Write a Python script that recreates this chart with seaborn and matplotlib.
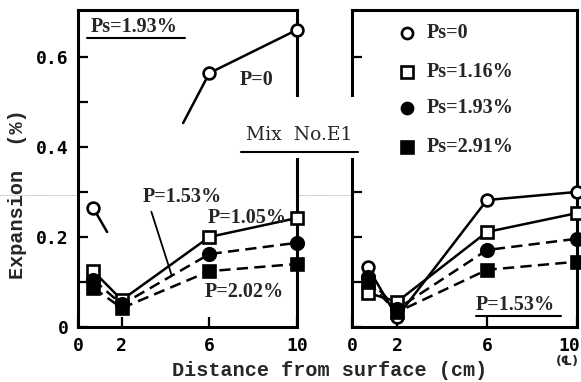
import matplotlib
matplotlib.use("Agg")
import matplotlib.pyplot as plt
import seaborn as sns
import numpy as np
from matplotlib.lines import Line2D
from matplotlib.patches import Rectangle
import matplotlib.transforms as mtransforms

sns.set_theme(style="white")
plt.rcParams['font.family'] = ['DejaVu Serif', 'DejaVu Sans']

# ---------------- data ----------------
depth = [0.7, 2, 6, 10]
xticks = [0, 2, 6, 10]
xtick_labels = ["0", "2", "6", "10"]
yticks = [0, 0.1, 0.2, 0.3, 0.4, 0.5, 0.6]
ytick_labels = ["0", "", "0.2", "", "0.4", "", "0.6"]

# left panel: Ps = 1.93 %, varying P
left_p105 = [0.124, 0.060, 0.200, 0.242]
left_p153 = [0.105, 0.050, 0.162, 0.187]
left_p202 = [0.087, 0.042, 0.124, 0.140]
left_p0_x = [6, 10]
left_p0 = [0.564, 0.660]
left_p0_first_x = [0.7]
left_p0_first = [0.264]
left_p0_stub1_x = [0.7, 1.33]
left_p0_stub1_y = [0.264, 0.211]
left_p0_stub2_x = [6, 4.8]
left_p0_stub2_y = [0.564, 0.453]

# right panel: P = 1.53 %, varying Ps
right_ps0 = [0.133, 0.022, 0.282, 0.300]
right_ps116 = [0.076, 0.056, 0.211, 0.253]
right_ps193 = [0.110, 0.040, 0.171, 0.196]
right_ps291 = [0.100, 0.033, 0.127, 0.145]
legend_labels = ["Ps=0", "Ps=1.16%", "Ps=1.93%", "Ps=2.91%"]

# ---------------- styles ----------------
DASH = (0, (4.5, 2.5))
sty_open_circle = dict(marker="o", markersize=8.5, markerfacecolor="white", linestyle="-")
sty_open_square = dict(marker="s", markersize=9, markerfacecolor="white", linestyle="-")
sty_fill_circle = dict(marker="o", markersize=9, markerfacecolor="black", linestyle=DASH)
sty_fill_square = dict(marker="s", markersize=9, markerfacecolor="black", linestyle=DASH)
styles = [sty_open_circle, sty_open_square, sty_fill_circle, sty_fill_square]

W, H = 581, 382
fig = plt.figure(figsize=(W / 100, H / 100), dpi=100)

def fx(px):
    return px / W

def fy(py):
    return (H - py) / H

ax1 = fig.add_axes([fx(78), fy(327), fx(297) - fx(78), fy(10) - fy(327)])
ax2 = fig.add_axes([fx(352), fy(327), fx(577) - fx(352), fy(10) - fy(327)])

tickfont = dict(family="DejaVu Sans Mono", weight="bold", size=13)
annfont = dict(family="Liberation Serif", weight="bold", size=14.5)
labelfont = dict(family="Liberation Mono", weight="bold", size=14.5)

def line(ax, x, y, sty, **kw):
    sns.lineplot(x=x, y=y, ax=ax, color="black", linewidth=1.8,
                 markeredgecolor="black", markeredgewidth=1.9,
                 clip_on=False, zorder=3, legend=False, **sty, **kw)

for ax in (ax1, ax2):
    ax.set_xlim(0, 10)
    ax.set_ylim(0, 0.704)
    for s in ax.spines.values():
        s.set_linewidth(2.2)
        s.set_color("black")
    ax.set_yticks(yticks)
    ax.set_xticks(xticks)
    ax.set_xticklabels(xtick_labels, fontdict=tickfont)
    ax.tick_params(direction="in", length=7, width=1.6, colors="black",
                   pad=7, left=True, bottom=True)
    ax.set_facecolor("white")

ax1.set_yticklabels(ytick_labels, fontdict=tickfont)
ax2.set_yticklabels([])
# last x label on the right panel sits against the figure edge
last = ax2.get_xticklabels()[-1]
last.set_horizontalalignment("right")
last.set_transform(last.get_transform() +
                   mtransforms.ScaledTranslation(3 / 100, 0, fig.dpi_scale_trans))

# left panel lines
line(ax1, depth, left_p105, sty_open_square)
line(ax1, depth, left_p153, sty_fill_circle)
line(ax1, depth, left_p202, sty_fill_square)
ax1.plot(left_p0_stub1_x, left_p0_stub1_y, color="black", lw=1.8, zorder=2)
ax1.plot(left_p0_stub2_x, left_p0_stub2_y, color="black", lw=1.8, zorder=2)
line(ax1, left_p0_x, left_p0, sty_open_circle)
ax1.plot(left_p0_first_x, left_p0_first, linestyle="none", marker="o", markersize=8.5,
         markerfacecolor="white", markeredgecolor="black", markeredgewidth=1.9, zorder=4)

# right panel lines
for vals, sty in zip([right_ps0, right_ps116, right_ps193, right_ps291], styles):
    line(ax2, depth, vals, sty)

# left annotations
ax1.text(0.6, 0.667, "Ps=1.93%", ha="left", va="center", **annfont)
ax1.plot([0.4, 4.9], [0.642, 0.642], color="black", lw=1.5, clip_on=False)
ax1.text(7.4, 0.549, "P=0", ha="left", va="center", **annfont)
ax1.text(2.95, 0.289, "P=1.53%", ha="left", va="center", **annfont)
ax1.plot([3.35, 4.27], [0.256, 0.116], color="black", lw=1.3)
ax1.text(5.9, 0.242, "P=1.05%", ha="left", va="center", **annfont)
ax1.text(5.8, 0.078, "P=2.02%", ha="left", va="center", **annfont)

# right legend
leg_y = [0.653, 0.567, 0.487, 0.400]
for lab, yy, sty in zip(legend_labels, leg_y, styles):
    ax2.plot([2.44], [yy], linestyle="none", marker=sty["marker"], markersize=8,
             markerfacecolor=sty["markerfacecolor"], markeredgecolor="black",
             markeredgewidth=1.9)
    ax2.text(3.3, yy, lab, ha="left", va="center", **annfont)
ax2.text(5.5, 0.049, "P=1.53%", ha="left", va="center", **annfont)
ax2.plot([5.5, 9.3], [0.024, 0.024], color="black", lw=1.5)

# Mix No.E1 label with gap in spines
fig.add_artist(Rectangle((fx(232), fy(158)), fx(368) - fx(232), fy(97) - fy(158),
                         transform=fig.transFigure, facecolor="white",
                         edgecolor="none", zorder=10))
fig.text(fx(299), fy(135), "Mix  No.E1", ha="center", va="center", zorder=11,
         family="DejaVu Serif", size=13.5)
fig.add_artist(Line2D([fx(241), fx(358)], [fy(152), fy(152)], color="black",
                      lw=1.5, zorder=11))

# scan line artifact
fig.add_artist(Line2D([0, 1], [fy(195), fy(195)], color="#999999", lw=0.6,
                      linestyle=(0, (1, 1)), zorder=0))

# axis labels
fig.text(fx(18), fy(194), "Expansion  (%)", rotation=90, ha="center", va="center",
         **labelfont)
fig.text(fx(330), fy(370), "Distance from surface (cm)", ha="center", va="center",
         **labelfont)
fig.text(fx(567), fy(362), "(\u2104)", ha="center", va="center",
         family=["DejaVu Sans", "DejaVu Serif"], size=9, weight="bold")

fig.savefig("out.png", dpi=100, facecolor="white")
